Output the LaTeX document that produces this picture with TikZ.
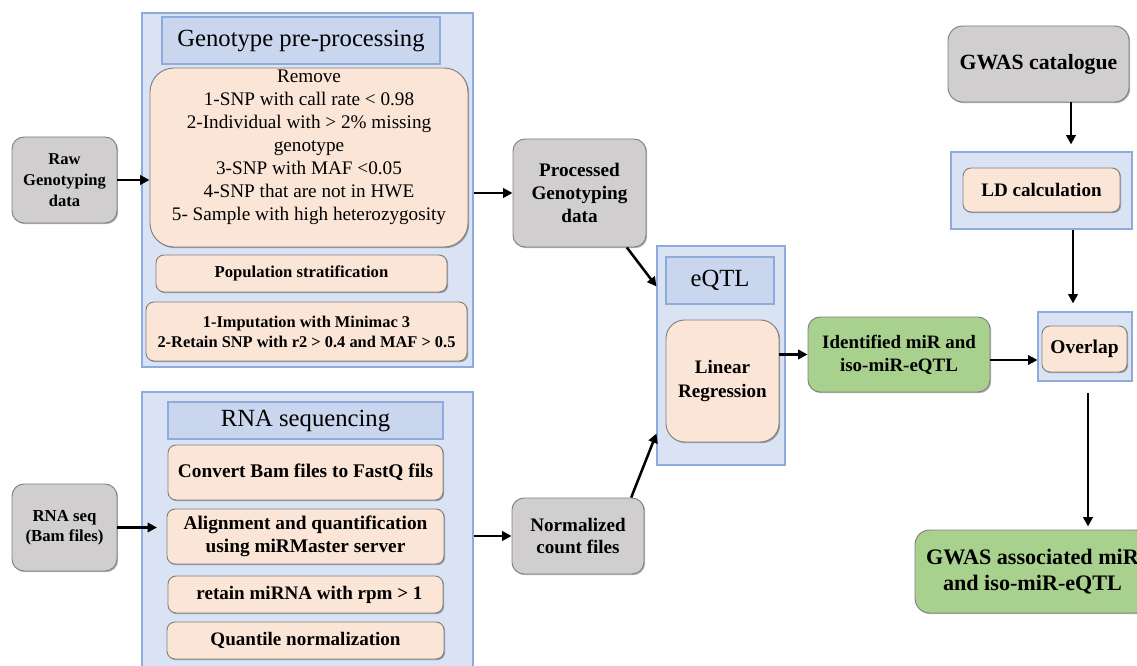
\documentclass[tikz,border=0pt]{standalone}
\usepackage{fontspec}
\setmainfont{Liberation Serif}
\usetikzlibrary{arrows.meta,calc,shadows}
\definecolor{cfill}{HTML}{DAE3F3}
\definecolor{cline}{HTML}{8FAADC}
\definecolor{tfill}{HTML}{C9D6EE}
\definecolor{pfill}{HTML}{FBE5D6}
\definecolor{gfill}{HTML}{D0CECE}
\definecolor{grfill}{HTML}{A9D18E}
\definecolor{bline}{HTML}{7F7F7F}
\newcommand\myfs[2]{\fontsize{#1}{#2}\selectfont}
% \mybox{style}{x1}{y1}{x2}{y2}{name}{text}  (pixel corners)
\newcommand\mybox[7]{\node[#1, minimum width={(#4-#2)*0.75pt}, minimum height={(#5-#3)*0.75pt}] (#6) at ({(#2+#4)/2},{(#3+#5)/2}) {#7};}
\tikzset{
 cont/.style={draw=cline, fill=cfill, line width=0.8pt, inner sep=0pt},
 ttl/.style={draw=cline, fill=tfill, line width=1pt, inner sep=0pt, font=\myfs{18.5}{22}},
 shad/.style={drop shadow={shadow xshift=0.9pt, shadow yshift=-0.9pt, opacity=0.3, fill=black}},
 pbox/.style={draw=bline, fill=pfill, line width=0.7pt, rounded corners=6pt, inner sep=0pt, align=center, shad},
 gbox/.style={draw=bline, fill=gfill, line width=0.7pt, rounded corners=9pt, inner sep=0pt, align=center, shad},
 grbox/.style={draw=bline, fill=grfill, line width=0.7pt, rounded corners=9pt, inner sep=0pt, align=center, shad},
 arr/.style={-{Triangle[length=7pt,width=7pt]}, line width=1.9pt},
}
\begin{document}
\begin{tikzpicture}[x=0.75pt,y=-0.75pt]
\useasboundingbox (0,0) rectangle (1137,666);
\clip (0,0) rectangle (1137,666);

% ---------- Genotype pre-processing ----------
\mybox{cont}{142}{13}{473}{367}{genoc}{}
\mybox{ttl}{162}{17}{440}{64}{genot}{Genotype pre-processing}
\mybox{pbox, rounded corners=18pt, label={[font=\myfs{14.4}{17.3}, align=center, yshift=7.5pt]center:{Remove\\1-SNP with call rate < 0.98\\2-Individual with > 2\% missing\\genotype\\3-SNP with MAF <0.05\\4-SNP that are not in HWE\\5- Sample with high heterozygosity}}}{150}{68}{468}{247}{remove}{}
\mybox{pbox, font=\bfseries\myfs{12.5}{15}}{156}{255}{447}{292}{pop}{Population stratification}
\mybox{pbox, font=\bfseries\myfs{12.3}{15}}{146}{302}{467}{361}{imp}{1-Imputation with Minimac 3\\2-Retain SNP with r2 > 0.4 and MAF > 0.5}

\mybox{gbox, font=\bfseries\myfs{12.4}{15.7}}{12}{137}{117}{223}{raw}{Raw\\Genotyping\\data}
\mybox{gbox, font=\bfseries\myfs{14.4}{17}}{513}{139}{646}{247}{proc}{Processed\\Genotyping\\data}

% ---------- RNA sequencing ----------
\mybox{cont}{142}{392}{473}{690}{rnac}{}
\mybox{ttl}{168}{402}{443}{439}{rnat}{RNA sequencing}
\mybox{pbox, font=\bfseries\myfs{14.5}{17.3}}{168}{445}{443}{500}{conv}{Convert Bam files to FastQ fils}
\mybox{pbox, font=\bfseries\myfs{14.5}{17.3}}{167}{509}{444}{564}{aln}{Alignment and quantification\\using miRMaster server}
\mybox{pbox, font=\bfseries\myfs{14.3}{17}}{168}{576}{443}{613}{ret}{\hspace{6pt}retain miRNA with rpm > 1}
\mybox{pbox, font=\bfseries\myfs{14.3}{17}}{167}{622}{444}{659}{quant}{Quantile normalization}

\mybox{gbox, font=\bfseries\myfs{12.6}{15}}{12}{484}{117}{571}{rnaseq}{RNA seq\\(Bam files)}
\mybox{gbox, font=\bfseries\myfs{14.3}{17}}{512}{498}{644}{574}{norm}{Normalized\\count files}
\coordinate (rnain) at (157,527.5);

% ---------- eQTL ----------
\mybox{cont}{657}{246}{785}{465}{eqtlc}{}
\mybox{ttl}{666}{257}{774}{304}{eqtlt}{eQTL}
\mybox{pbox, rounded corners=14pt, font=\bfseries\myfs{14.3}{18}}{666}{320}{779}{442}{lr}{Linear\\Regression}

\mybox{grbox, font=\bfseries\myfs{14.2}{17.3}}{808}{317}{990}{392}{ident}{Identified miR and\\iso-miR-eQTL}

% ---------- right column ----------
\mybox{gbox, rounded corners=11pt, font=\bfseries\myfs{16.3}{19}}{948}{26}{1129}{102}{gwas}{GWAS catalogue}
\mybox{cont}{951}{152}{1132}{229}{ldc}{}
\mybox{pbox, font=\bfseries\myfs{14.3}{17}}{963}{168}{1120}{212}{ld}{LD calculation}
\mybox{cont}{1038}{312}{1132}{381}{ovc}{}
\mybox{pbox, font=\bfseries\myfs{14.6}{17}}{1042}{326}{1127}{372}{ov}{Overlap}
\mybox{grbox, rounded corners=11pt, font=\bfseries\myfs{16.6}{20}}{915}{530}{1150}{613}{gassoc}{GWAS associated miR\\and iso-miR-eQTL}

% ---------- connectors ----------
\draw[arr] (raw.east) -- (raw.east -| remove.west);
\draw[arr] (proc.west -| genoc.east) -- (proc.west);
\draw[arr] (rnaseq.east) -- (rnain);
\draw[arr] (norm.west -| rnac.east) -- (norm.west);
\draw[arr] (proc.-49) -- ($(eqtlc.north west)+(0,41)$);
\draw[arr] ($(norm.north west)!0.9!(norm.north east)$) -- ($(eqtlc.south west)+(0,-32)$);
\draw[arr] (ident.west -| lr.east) -- (ident.west);
\draw[arr] ($(ident.east)+(0,5.5)$) -- ($(ovc.west |- ident.east)+(0,5.5)$);
\draw[arr] ($(gwas.south)+(32.5,0)$) -- ($(ldc.north)+(29.5,-7)$);
\draw[arr] ($(ldc.south)+(31.5,0)$) -- ($(ovc.north)+(-12,-8)$);
\draw[arr] ($(ovc.south)+(3,11)$) -- ($(gassoc.north)+(55.5,-3)$);
\end{tikzpicture}
\end{document}
